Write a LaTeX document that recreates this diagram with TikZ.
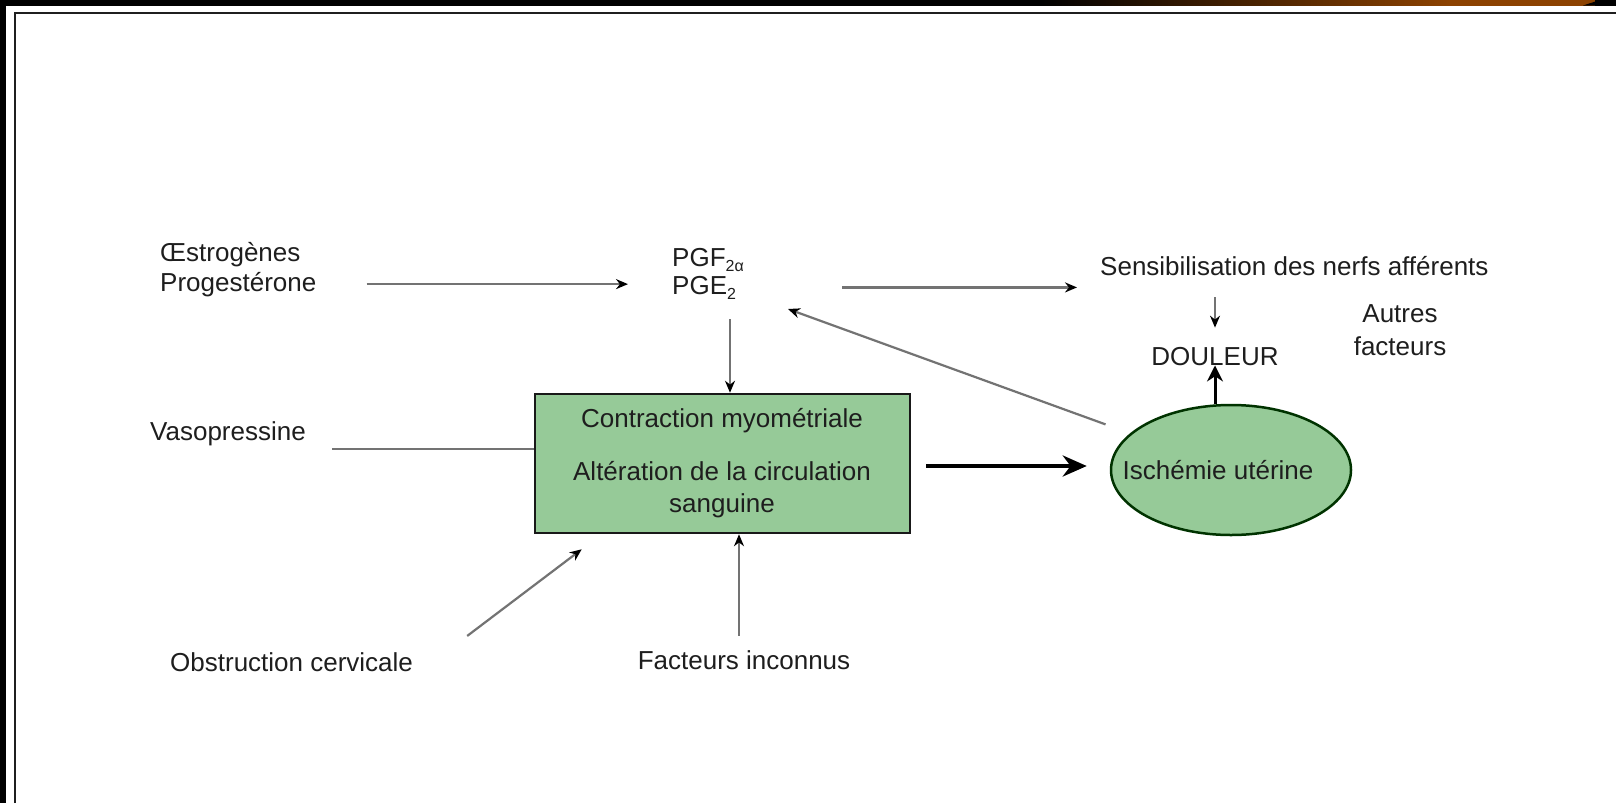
\documentclass[tikz,border=0pt]{standalone}
\usepackage{fontspec}
\setmainfont{Liberation Sans}
\usetikzlibrary{arrows.meta,shapes.geometric,calc}
\definecolor{boxgreen}{RGB}{150,202,152}
\definecolor{txt}{RGB}{30,30,30}
\definecolor{ln}{RGB}{115,115,115}
\definecolor{brn}{RGB}{140,66,0}
\newcommand\sbs[1]{\raisebox{-5pt}{\fontsize{16}{16}\selectfont #1}}
\begin{document}
\begin{tikzpicture}[x=1pt,y=-1pt,
  lbl/.style={font=\fontsize{26}{30}\selectfont, text=txt, inner sep=0pt, anchor=base},
  thinarrow/.style={draw=ln, line width=2.2pt, -{Stealth[black,length=12pt,width=10pt]}},
  thinline/.style={draw=ln, line width=2.2pt},
  thickarrow/.style={draw=black, line width=4.5pt, -{Stealth[black,length=24pt,width=21pt]}},
  medarrow/.style={draw=black, line width=3pt, -{Stealth[black,length=16pt,width=16pt]}},
  greenbox/.style={draw=black!90, line width=2.5pt, fill=boxgreen, minimum width=375pt, minimum height=139pt, inner sep=0pt},
  greenell/.style={ellipse, draw=black!80!green, line width=2.5pt, fill=boxgreen, minimum width=240pt, minimum height=130pt, inner sep=0pt}]
% frame
\path[use as bounding box] (0,0) rectangle (1616,803);
\fill[white] (0,0) rectangle (1616,803);
\fill[black] (0,0) rectangle (1616,5.5);
\shade[left color=black, right color=brn] (1040,0) rectangle (1450,5.5);
\fill[brn] (1449,0) rectangle (1595,5.5);
\fill[black] (1583,5.5) -- (1600,0) -- (1616,0) -- (1616,5.5) -- cycle;
\fill[black] (0,0) rectangle (6,803);
\draw[line width=2.2pt, black!88] (15,803) -- (15,12.7) -- (1616,12.7);
% nodes
\node[lbl, anchor=base west] (oes) at (160,261) {Œstrogènes};
\node[lbl, anchor=base west] (prog) at (160,291) {Progestérone};
\node[lbl, anchor=base west] (pgf) at (672,266) {PGF\sbs{2α}};
\node[lbl, anchor=base west] (pge) at (672,294) {PGE\sbs{2}};
\node[lbl, anchor=base west] (sens) at (1100,275) {Sensibilisation des nerfs afférents};
\node[lbl] (doul) at (1215,365) {DOULEUR};
\node[lbl, align=center] (autres) at (1400,355) {Autres\\[3pt]facteurs};
\node[lbl, anchor=base west] (vaso) at (150,440) {Vasopressine};
\node[greenbox] (box) at (722.5,463.5) {};
\node[lbl] (c1) at (722,427) {Contraction myométriale};
\node[lbl] (c2) at (722,480) {Altération de la circulation};
\node[lbl] (c3) at (722,512) {sanguine};
\node[greenell] (isch) at (1231,470) {};
\node[lbl] (ischt) at (1218,479) {Ischémie utérine};
\node[lbl, anchor=base west] (obst) at (170,671) {Obstruction cervicale};
\node[lbl] (fact) at (744,669) {Facteurs inconnus};
% helper coordinates
\coordinate (vasoin) at ($(box.west)+(0,-14.5)$);
\coordinate (fbend) at (788,309);
\coordinate (obstend) at ($(box.south west)+(48,15)$);
\coordinate (obststart) at ($(obst.north east)+(54,-16)$);
\coordinate (thickstart) at ($(box.east)+(0,2.5)$);
% connectors
\draw[thinarrow, shorten <=50pt, shorten >=44pt] (prog.east) -- (prog.east -| pge.west);
\draw[thinarrow, shorten <=106pt, shorten >=23pt] (pge.east) -- (pge.east -| sens.west);
\draw[thinarrow, line width=1.6pt, shorten <=22pt, shorten >=19pt] (doul.north |- sens.south) -- (doul.north);
\draw[thinarrow, shorten <=20pt] ([xshift=7.5pt]box.north |- pge.south) -- ([xshift=7.5pt]box.north);
\draw[thinarrow, shorten <=133.5pt] (isch.center) -- (fbend);
\draw[thinline, shorten <=26pt] (vaso.east |- vasoin) -- (vasoin);
\draw[thickarrow, shorten <=15pt, shorten >=23pt] (thickstart) -- (thickstart -| isch.west);
\draw[medarrow] (isch.north -| doul.south) -- (doul.south);
\draw[thinarrow] (obststart) -- (obstend);
\draw[thinarrow, shorten <=14pt] ([xshift=16.5pt]box.south |- fact.north) -- ([xshift=16.5pt]box.south);
\end{tikzpicture}
\end{document}
